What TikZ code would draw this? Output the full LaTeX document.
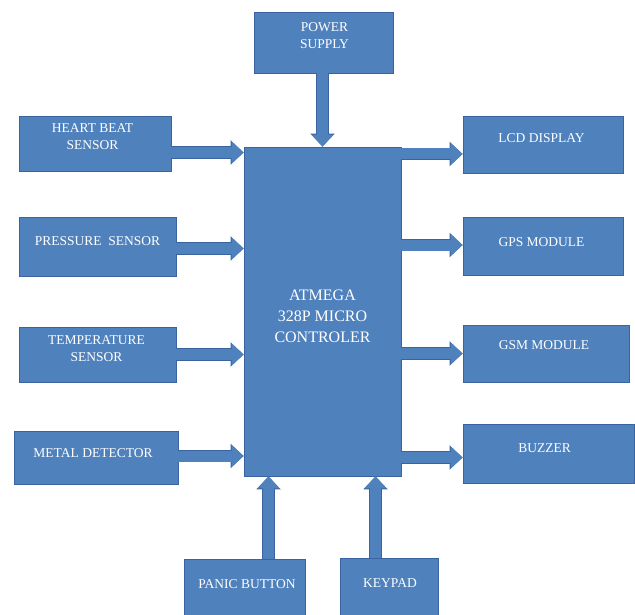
\documentclass[tikz,border=0pt]{standalone}
\usepackage{fontspec}
\setmainfont{Liberation Serif}
\usetikzlibrary{arrows.meta,calc}
\definecolor{boxfill}{HTML}{4F81BD}
\definecolor{boxline}{HTML}{3A64A0}
\tikzset{
  blk/.style={draw=boxline, fill=boxfill, line width=0.9pt, rectangle, inner sep=0pt},
  txt/.style={text=white, align=center, inner sep=0pt, font=\fontsize{13.5}{17}\selectfont},
  bigtxt/.style={text=white, align=center, inner sep=0pt, font=\fontsize{16}{21}\selectfont},
  barrow/.style={draw=boxfill, line width=11pt,
    -{Triangle[length=12pt,width=22pt,line width=0pt]},
    preaction={draw=boxline, line width=12.6pt, -{Triangle[length=13pt,width=24.5pt,line width=0pt]}}}
}
\begin{document}
\begin{tikzpicture}[x=1pt,y=-1pt]
\clip (0,0) rectangle (635,615);
\fill[white] (0,0) rectangle (635,615);
% boxes
\node[blk, minimum width=139pt, minimum height=61pt] (ps) at (323.5,42.5) {};
\node[blk, minimum width=157pt, minimum height=329pt] (mcu) at (322.5,311.5) {};
\node[blk, minimum width=152pt, minimum height=55pt] (hb) at (95,143.5) {};
\node[blk, minimum width=157pt, minimum height=59pt] (pr) at (97.5,246.5) {};
\node[blk, minimum width=157pt, minimum height=55pt] (tp) at (97.5,354.5) {};
\node[blk, minimum width=164pt, minimum height=53pt] (md) at (96,457.5) {};
\node[blk, minimum width=160pt, minimum height=57pt] (lcd) at (543,144.5) {};
\node[blk, minimum width=160pt, minimum height=58pt] (gps) at (543,246) {};
\node[blk, minimum width=166pt, minimum height=57pt] (gsm) at (546,353.5) {};
\node[blk, minimum width=171pt, minimum height=59pt] (bz) at (548.5,453.5) {};
\node[blk, minimum width=121pt, minimum height=70pt] (pb) at (244.5,594) {};
\node[blk, minimum width=98pt, minimum height=70pt] (kp) at (389,593) {};
% texts
\node[txt] (psT) at (324.5,35.5) {POWER\\SUPPLY};
\node[bigtxt] (mcuT) at (322.5,316) {ATMEGA\\328P MICRO\\CONTROLER};
\node[txt] (hbT) at (92.5,136.5) {HEART BEAT\\SENSOR};
\node[txt] (prT) at (97.5,241) {PRESSURE\ \ SENSOR};
\node[txt] (tpT) at (96.5,348.5) {TEMPERATURE\\SENSOR};
\node[txt] (mdT) at (93,453) {METAL DETECTOR};
\node[txt] (lcdT) at (541.5,138) {LCD DISPLAY};
\node[txt] (gpsT) at (541.5,242) {GPS MODULE};
\node[txt] (gsmT) at (544,345) {GSM MODULE};
\node[txt] (bzT) at (544.5,448) {BUZZER};
\node[txt] (pbT) at (247,584) {PANIC BUTTON};
\node[txt] (kpT) at (390,583) {KEYPAD};
% arrows
\draw[barrow] (ps.south -| 322.5,0) -- (mcu.north -| 322.5,0);
\draw[barrow] (hb.east |- 0,152.5) -- (mcu.west |- 0,152.5);
\draw[barrow] (pr.east |- 0,248.5) -- (mcu.west |- 0,248.5);
\draw[barrow] (tp.east |- 0,354.5) -- (mcu.west |- 0,354.5);
\draw[barrow] (md.east |- 0,456) -- (mcu.west |- 0,456);
\draw[barrow] (mcu.east |- 0,154) -- (lcd.west |- 0,154);
\draw[barrow] (mcu.east |- 0,245) -- (gps.west |- 0,245);
\draw[barrow] (mcu.east |- 0,353.5) -- (gsm.west |- 0,353.5);
\draw[barrow] (mcu.east |- 0,457.5) -- (bz.west |- 0,457.5);
\draw[barrow] (pb.north -| 268.5,0) -- (mcu.south -| 268.5,0);
\draw[barrow] (kp.north -| 375.5,0) -- (mcu.south -| 375.5,0);
\end{tikzpicture}
\end{document}
